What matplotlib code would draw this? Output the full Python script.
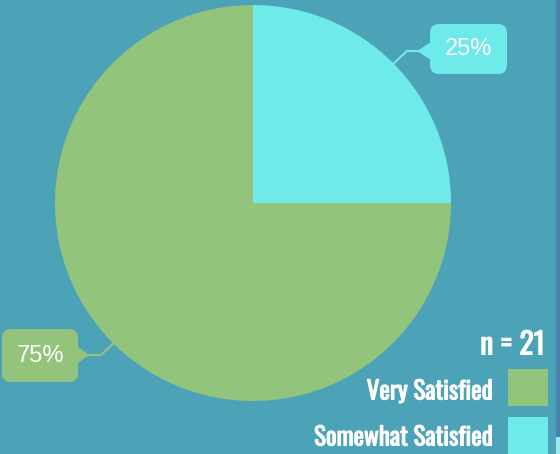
import matplotlib
matplotlib.use('Agg')
import matplotlib.pyplot as plt
import matplotlib.patheffects as pe
from matplotlib.patches import FancyBboxPatch, Polygon, Rectangle

W, H = 560, 454

labels = ['Somewhat Satisfied', 'Very Satisfied']
values = [25, 75]
pct_text = ['25%', '75%']
colors = ['#6eeaea', '#93c47b']
n_text = 'n = 21'

bg = '#4ca3b8'
cond = ['Oswald', 'DejaVu Sans']
bold = [pe.withStroke(linewidth=0.7, foreground='white')]

fig = plt.figure(figsize=(W / 100, H / 100), dpi=100, facecolor=bg)
ax = fig.add_axes([0, 0, 1, 1])


def Y(y):
    # image row -> data y
    return H - y


# pie
ax.pie(values, colors=colors, startangle=90, counterclock=False,
       center=(253, Y(203)), radius=198, frame=True,
       wedgeprops=dict(linewidth=0))
ax.set_xlim(0, W)
ax.set_ylim(0, H)
ax.set_aspect('auto')
ax.axis('off')


def callout(x0, y0, x1, y1, tip, line, color, text):
    box = FancyBboxPatch((x0, Y(y1)), x1 - x0, y1 - y0,
                         boxstyle='round,pad=0,rounding_size=9',
                         fc=color, ec='none', zorder=3)
    ax.add_patch(box)
    tx, ty = tip
    if tx < x0:
        pts = [(x0 + 1, Y(ty - 9)), (tx, Y(ty)), (x0 + 1, Y(ty + 9))]
    else:
        pts = [(x1 - 1, Y(ty - 9)), (tx, Y(ty)), (x1 - 1, Y(ty + 9))]
    ax.add_patch(Polygon(pts, closed=True, fc=color, ec='none', zorder=3))
    xs = [p[0] for p in line]
    ys = [Y(p[1]) for p in line]
    ax.plot(xs, ys, color=color, lw=1.5, zorder=2)
    ax.text((x0 + x1) / 2, Y((y0 + y1) / 2), text, color='white',
            fontsize=17, family=['Liberation Sans', 'DejaVu Sans'],
            ha='center', va='center', zorder=4)


callout(430, 24, 507, 74, (417, 51), [(393, 64), (407, 51), (418, 51)],
        colors[0], pct_text[0])
callout(2, 329, 78, 382, (89, 355), [(115, 342), (101, 355), (88, 355)],
        colors[1], pct_text[1])

# legend
ax.text(545, Y(342), n_text, color='white', fontsize=21.5,
        family=cond, ha='right', va='center_baseline', path_effects=bold)
ax.text(493, Y(389), labels[1], color='white', fontsize=18,
        family=cond, ha='right', va='center_baseline', path_effects=bold)
ax.text(493, Y(435), labels[0], color='white', fontsize=18,
        family=cond, ha='right', va='center_baseline', path_effects=bold)
ax.add_patch(Rectangle((508, Y(406)), 40, 37, fc=colors[1], ec='none'))
ax.add_patch(Rectangle((508, Y(460)), 40, 43, fc=colors[0], ec='none'))

# right edge strip
ax.add_patch(Rectangle((556, 0), 4, H, fc='#4a82b0', ec='none'))
ax.add_patch(Rectangle((556, 0), 4, Y(437), fc='#9be8f0', ec='none'))

fig.savefig('out.png', dpi=100, facecolor=bg)
